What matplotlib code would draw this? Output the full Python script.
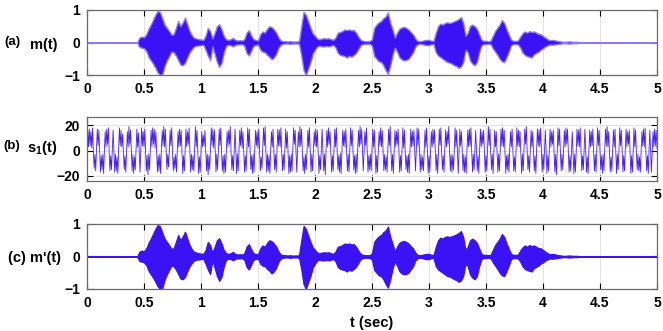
import numpy as np
import matplotlib.pyplot as plt
from matplotlib.ticker import FormatStrFormatter

plt.rcParams['font.family'] = ['Liberation Sans', 'DejaVu Sans']
plt.rcParams['font.weight'] = 'bold'
plt.rcParams['mathtext.default'] = 'regular'

# envelope of the speech signal m(t), read every 0.02 s (0 .. 5 s)
t_env = np.linspace(0, 5, 251)
m_upper = [0, 0, 0, 0, 0, 0, 0, 0, 0, 0,
           0, 0, 0, 0, 0, 0, 0, 0, 0, 0,
           0, 0, 0, 0.15, 0.18, 0.16, 0.25, 0.42, 0.55, 0.7,
           0.85, 0.97, 0.93, 0.74, 0.55, 0.45, 0.35, 0.24, 0.25, 0.45,
           0.66, 0.5, 0.62, 0.76, 0.55, 0.35, 0.22, 0.14, 0.12, 0.1,
           0.09, 0.08, 0.2, 0.45, 0.35, 0.12, 0.3, 0.5, 0.56, 0.4,
           0.2, 0.1, 0.08, 0.1, 0.14, 0.08, 0.06, 0.07, 0.06, 0.1,
           0.3, 0.38, 0.22, 0.1, 0.08, 0.06, 0.25, 0.34, 0.3, 0.42,
           0.5, 0.47, 0.4, 0.3, 0.15, 0.06, 0.04, 0.04, 0.03, 0.04,
           0.03, 0.03, 0.03, 0.04, 0.5, 0.94, 0.85, 0.65, 0.45, 0.28,
           0.2, 0.12, 0.1, 0.12, 0.13, 0.12, 0.13, 0.1, 0.08, 0.15,
           0.3, 0.32, 0.35, 0.4, 0.38, 0.4, 0.37, 0.38, 0.3, 0.18,
           0.08, 0.05, 0.04, 0.04, 0.04, 0.1, 0.45, 0.55, 0.62, 0.66,
           0.75, 0.8, 0.92, 0.6, 0.4, 0.15, 0.3, 0.42, 0.46, 0.48,
           0.45, 0.4, 0.32, 0.25, 0.12, 0.05, 0.04, 0.05, 0.07, 0.08,
           0.08, 0.05, 0.05, 0.3, 0.5, 0.58, 0.55, 0.6, 0.62, 0.6,
           0.62, 0.65, 0.68, 0.72, 0.78, 0.6, 0.2, 0.3, 0.5, 0.55,
           0.5, 0.42, 0.25, 0.08, 0.05, 0.05, 0.04, 0.05, 0.2, 0.35,
           0.45, 0.55, 0.69, 0.6, 0.4, 0.24, 0.08, 0.05, 0.05, 0.06,
           0.18, 0.28, 0.34, 0.3, 0.35, 0.32, 0.34, 0.3, 0.26, 0.25,
           0.2, 0.15, 0.1, 0.07, 0.08, 0.07, 0.05, 0.04, 0.03, 0.02,
           0.02, 0.03, 0.03, 0.02, 0.02, 0.02, 0.01, 0.01, 0.01, 0.01,
           0.01, 0, 0, 0, 0, 0, 0, 0, 0, 0,
           0, 0, 0, 0, 0, 0, 0, 0, 0, 0,
           0.01, 0, 0, 0, 0, 0, 0, 0, 0, 0, 0]
m_lower = [0, 0, 0, 0, 0, 0, 0, 0, 0, 0,
           0, 0, 0, 0, 0, 0, 0, 0, 0, 0,
           0, 0, 0, -0.14, -0.16, -0.18, -0.26, -0.44, -0.55, -0.65,
           -0.78, -0.92, -1.0, -0.98, -0.72, -0.55, -0.42, -0.28, -0.3, -0.4,
           -0.54, -0.68, -0.7, -0.62, -0.45, -0.3, -0.2, -0.12, -0.1, -0.09,
           -0.08, -0.07, -0.22, -0.4, -0.54, -0.12, -0.35, -0.6, -0.75, -0.62,
           -0.3, -0.1, -0.07, -0.08, -0.12, -0.07, -0.06, -0.06, -0.05, -0.1,
           -0.32, -0.4, -0.25, -0.1, -0.08, -0.06, -0.22, -0.28, -0.3, -0.38,
           -0.44, -0.52, -0.46, -0.34, -0.16, -0.06, -0.04, -0.03, -0.03, -0.04,
           -0.03, -0.03, -0.03, -0.04, -0.4, -0.85, -1.0, -0.8, -0.6, -0.34,
           -0.22, -0.12, -0.1, -0.12, -0.12, -0.11, -0.12, -0.1, -0.07, -0.15,
           -0.32, -0.38, -0.4, -0.42, -0.46, -0.4, -0.44, -0.38, -0.32, -0.2,
           -0.08, -0.05, -0.04, -0.04, -0.04, -0.1, -0.42, -0.5, -0.58, -0.6,
           -0.7, -0.85, -0.96, -0.7, -0.38, -0.15, -0.28, -0.45, -0.52, -0.55,
           -0.54, -0.5, -0.4, -0.3, -0.12, -0.05, -0.04, -0.05, -0.07, -0.08,
           -0.08, -0.05, -0.05, -0.3, -0.4, -0.45, -0.5, -0.55, -0.6, -0.62,
           -0.65, -0.7, -0.72, -0.78, -0.74, -0.6, -0.22, -0.3, -0.55, -0.65,
           -0.7, -0.6, -0.3, -0.08, -0.05, -0.05, -0.04, -0.05, -0.18, -0.28,
           -0.38, -0.5, -0.58, -0.6, -0.45, -0.28, -0.08, -0.05, -0.05, -0.06,
           -0.15, -0.3, -0.38, -0.42, -0.44, -0.46, -0.36, -0.32, -0.28, -0.22,
           -0.18, -0.12, -0.09, -0.06, -0.07, -0.06, -0.05, -0.04, -0.03, -0.02,
           -0.02, -0.03, -0.03, -0.02, -0.02, -0.02, -0.01, -0.01, -0.01, -0.01,
           -0.01, 0, 0, 0, 0, 0, 0, 0, 0, 0,
           0, 0, 0, 0, 0, 0, 0, 0, 0, 0,
           -0.01, 0, 0, 0, 0, 0, 0, 0, 0, 0, 0]

# recovered message looks the same as the original in the figure
mr_upper = m_upper
mr_lower = m_lower

# chaotic carrier s1(t): spike peaks, evenly spread over 0 .. 5 s
s1_peaks = [16, 17, 15, 18, -14, -16, 17, 16, -17, -15, -18, 15, 17, 18, -16, -15, 16, -17, -16, -18,
            18, 16, 13, -15, -17, 15, 19, 16, -16, -18, -15, 17, 14, -17, 18, 15, 17, -16, -19, -15,
            16, 18, 17, 15, -17, -16, -18, 16, 19, 17, -15, -13, 16, 18, -16, -14, -17, 15, 17, 16,
            -18, -16, 17, 15, 18, -17, -15, -16, 19, 16, -18, -17, 15, 12, 16, -16, -19, -15, 18, 17,
            16, -17, -15, 17, 18, -16, -18, -17, 15, 16, 19, -15, -16, 17, -18, -16, 16, 18, 15, -17,
            -16, 18, 17, -15, -18, -17, 16, 15, 17, -16, -14, 18, 19, -17, -16, -18, 15, 17, -15, -17,
            17, 16, 18, -16, -15, 17, 15, -18, -17, -16, 18, 16, -17, 15, 19, 17, -16, -18, -15, 16,
            18, -17, -16, 15, 17, 16, -18, -15, 17, -16, -19, 16, 18, 15, -17, -16, 17, 18, -15, -17,
            -18, 16, 15, 17, -16, -17, 18, 16, -15, -18, -17, 16, 19, 17, -16, 15, 18, -17, -15, -16,
            17, 16, -18, -17, 15, 18, 16, -16, -15, -17, 17, 19, -16, -18, 16, 15, 17, -17, -16, 18,
            16, -15, -17, -18, 17, 15, 16, -16, 18, 17, -17, -15, -16, 16, 18, -18, -17, 15, 17, 16,
            -16, -18, 17, 18, -15, -17, 16, 15, 19, -16, -17, -15, 18, 16, -18, 17, 15, -16, -17, -18,
            16, 17, 18, -17, -15, 16, -16, -18, 17, 15, 16, -17, -16, 19, 17, -15, -18, 16, 15, -17,
            -16, 17, 18, 16, -18, -15, -17, 15, 17, -16, -17, 18, 16, 15, -18, -16, 17, 19, -15, -17,
            16, 15, -16, -18, 17, 16, 18, -17, -15, 16, -18, -16, 17, 15, 16, -17, -19, 18, 17, -16,
            -15, 16, 18, 17, -17, -16, 15, -18, -17, 17, 16, 18, -16, -15, 17, -17, -18, 16, 15, 17,
            -16, -17, 18, 16, -15, -18, -16, 17, 19, 15, -17, -16, 16, 17, -18, -15, 18, 16, -17, -16,
            17, 15, 16, -18, -17, 18, 16, -15, -16, -17, 15, 17, 18, -16, -18, 16, -17, 15, 17, 16]
# small excursions between the spikes (one before, after and between each peak)
s1_troughs = [3,
              3, 4, 2, 0, -3, 1, 4, -1, -4, -3, 0, 3, 5, -1, -4, 1, 0, -3, -5, 2,
              4, 3, -1, -4, 0, 3, 5, 1, -3, -5, 0, 3, -1, 1, 4, 3, 0, -4, -3, 1,
              3, 5, 2, 0, -4, -3, 1, 4, 3, -1, -3, 0, 4, -1, -5, -3, 0, 3, 4, -1,
              -4, 0, 3, 5, -1, -3, -4, 1, 3, 0, -5, -1, 3, 4, 0, -3, -4, 1, 4, 2,
              0, -3, 1, 4, -1, -4, -3, 0, 3, 5, -1, -4, 0, 1, -3, 0, 4, 2, -1, -4,
              1, 3, 0, -4, -3, 1, 4, 2, 0, -5, 1, 4, -1, -3, -4, 0, 3, 0, -3, 0,
              4, 3, -1, -3, 0, 2, -1, -4, -3, 0, 5, 0, 1, 3, 4, -1, -5, -3, 1, 3,
              -1, -3, 0, 4, 3, 0, -4, 1, 0, -3, 1, 3, 5, -1, -4, 0, 3, 0, -4, -2,
              0, 4, 3, -1, -3, 1, 4, 0, -4, -3, 1, 3, 5, 0, -1, 4, -1, -4, -3, 0,
              3, 0, -4, 1, 4, 3, -1, -3, -5, 0, 4, -1, -3, 0, 3, 5, 0, -4, 1, 2,
              -1, -4, -3, 0, 3, 4, -1, 1, 4, 0, -3, -5, 1, 3, -1, -4, 0, 3, 5, -1,
              -3, 0, 4, -1, -4, 1, 3, 5, 0, -3, -4, 1, 3, -1, 0, 4, -1, -3, -5, 1,
              3, 4, -1, -3, 0, -1, -4, 1, 3, 5, 0, -4, 1, 4, -1, -3, 0, 3, -1, -3,
              0, 4, 3, -1, -4, -3, 1, 3, 0, -5, 1, 4, 3, -1, -3, 0, 5, 0, -4, 1,
              3, -1, -4, 1, 4, 3, 0, -3, 0, -1, -4, 1, 3, 5, -1, -3, 0, 4, -1, -3,
              1, 3, 5, -1, -4, 0, -1, -3, 1, 4, 3, 0, -4, 1, -1, -5, 0, 3, 4, -1,
              -3, 1, 4, 0, -4, -3, 0, 4, 3, -1, -5, 1, 3, -1, -3, 0, 4, -1, -4, 0,
              3, 5, 0, -4, 1, 3, -1, -3, -5, 0, 4, 3, -1, -4, 1, 0, -1, 3, 4, 2]

xticks = [0, 0.5, 1, 1.5, 2, 2.5, 3, 3.5, 4, 4.5, 5]
blue = '#3a12f5'

fig = plt.figure(figsize=(6.63, 3.31), dpi=100)
ax1 = fig.add_axes([0.1312, 0.7734, 0.8597, 0.1964])
ax2 = fig.add_axes([0.1312, 0.4532, 0.8597, 0.1934])
ax3 = fig.add_axes([0.1312, 0.1269, 0.8597, 0.1964])

# (a) message
ax1.fill_between(t_env, m_lower, m_upper, facecolor=blue, edgecolor='#8c78ff', lw=1.0)
# (b) chaotic signal: peaks interleaved with the small excursions between them
s1_y = np.empty(len(s1_peaks) + len(s1_troughs))
s1_y[0::2] = s1_troughs
s1_y[1::2] = s1_peaks
s1_t = np.linspace(0, 5, len(s1_y))
ax2.plot(s1_t, s1_y, color='#4520f8', lw=0.6)
# (c) recovered message
ax3.fill_between(t_env, mr_lower, mr_upper, facecolor=blue, edgecolor=blue, lw=0.9)

for ax in [ax1, ax2, ax3]:
    ax.set_xlim(0, 5)
    ax.set_xticks(xticks)
    ax.xaxis.set_major_formatter(FormatStrFormatter('%g'))
    ax.grid(True, color='#e2e2e2', lw=0.8)
    ax.set_axisbelow(True)
    ax.tick_params(direction='in', length=4, width=0.8, top=True, right=True,
                   labelsize=10, pad=5, color='black')
    for s in ax.spines.values():
        s.set_color('#6a6a6a')
        s.set_linewidth(0.9)

for ax in [ax1, ax3]:
    ax.set_ylim(-1, 1)
    ax.set_yticks([-1, 0, 1])
ax2.set_ylim(-24, 26.6)
ax2.set_yticks([-20, 0, 20])

fig.text(4 / 663, 1 - 42 / 331, '(a)', fontsize=9.5, va='center', ha='left')
fig.text(30 / 663, 1 - 45 / 331, 'm(t)', fontsize=10.5, va='center', ha='left')
fig.text(3 / 663, 1 - 146 / 331, '(b)', fontsize=9.5, va='center', ha='left')
fig.text(27 / 663, 1 - 148 / 331, 's$_1$(t)', fontsize=10.5, va='center', ha='left')
fig.text(8 / 663, 1 - 258 / 331, "(c) m'(t)", fontsize=10.5, va='center', ha='left')
fig.text(372 / 663, 1 - 323 / 331, 't (sec)', fontsize=10.5, va='center', ha='center')

fig.savefig('out.png', dpi=100)
